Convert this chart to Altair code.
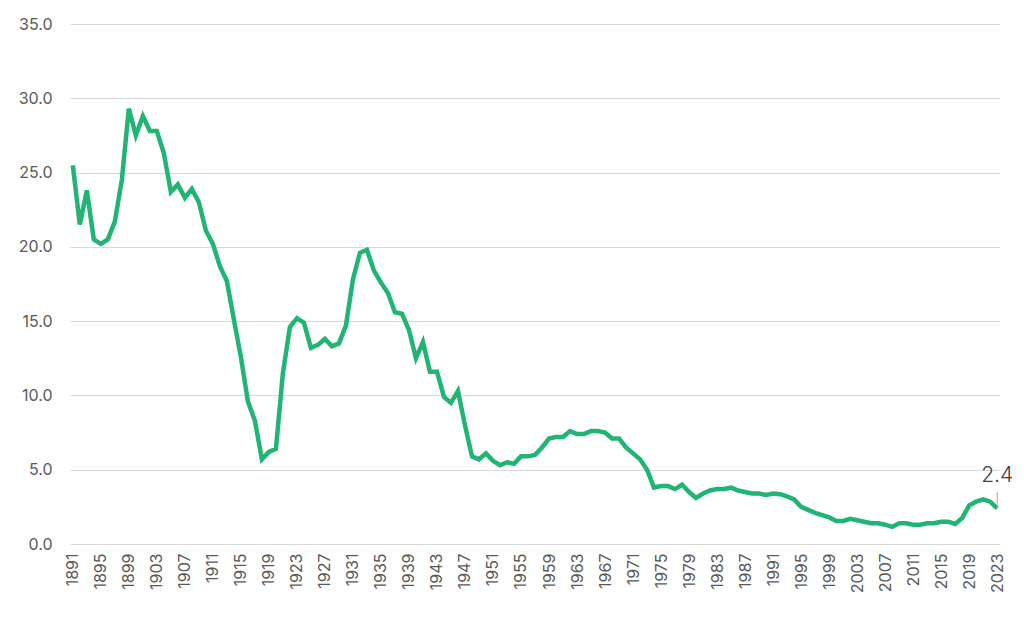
import altair as alt
import pandas as pd

years = list(range(1891, 2024))
values = [
    25.5, 21.5, 23.8, 20.5, 20.2, 20.5, 21.7, 24.5, 29.3, 27.5,  # 1891-1900
    28.8, 27.8, 27.8, 26.3, 23.7, 24.2, 23.3, 23.9, 23.0, 21.1,  # 1901-1910
    20.2, 18.7, 17.7, 15.1, 12.6, 9.6, 8.3, 5.7, 6.2, 6.4,       # 1911-1920
    11.5, 14.6, 15.2, 14.9, 13.2, 13.4, 13.8, 13.3, 13.5, 14.7,  # 1921-1930
    17.8, 19.6, 19.8, 18.4, 17.6, 16.9, 15.6, 15.5, 14.4, 12.5,  # 1931-1940
    13.6, 11.6, 11.6, 9.9, 9.5, 10.3, 8.0, 5.9, 5.7, 6.1,        # 1941-1950
    5.6, 5.3, 5.5, 5.4, 5.9, 5.9, 6.0, 6.5, 7.1, 7.2,            # 1951-1960
    7.2, 7.6, 7.4, 7.4, 7.6, 7.6, 7.5, 7.1, 7.1, 6.5,            # 1961-1970
    6.1, 5.7, 5.0, 3.8, 3.9, 3.9, 3.7, 4.0, 3.5, 3.1,            # 1971-1980
    3.4, 3.6, 3.7, 3.7, 3.8, 3.6, 3.5, 3.4, 3.4, 3.3,            # 1981-1990
    3.4, 3.35, 3.2, 3.0, 2.5, 2.3, 2.1, 1.95, 1.8, 1.55,         # 1991-2000
    1.55, 1.7, 1.6, 1.5, 1.4, 1.4, 1.3, 1.15, 1.4, 1.4,          # 2001-2010
    1.3, 1.3, 1.4, 1.4, 1.5, 1.5, 1.35, 1.75, 2.6, 2.85,         # 2011-2020
    3.0, 2.85, 2.4,                                              # 2021-2023
]
tick_years = list(range(1891, 2024, 4))
y_ticks = [0, 5, 10, 15, 20, 25, 30, 35]

df = pd.DataFrame({"year": years, "value": values})
last = df.tail(1)

x_enc = alt.X(
    "year:Q",
    scale=alt.Scale(domain=[1890.6, 2023.4], nice=False, zero=False),
    axis=alt.Axis(
        values=tick_years, format="d", labelAngle=-90, labelAlign="right",
        labelBaseline="middle", labelPadding=9, labelFontSize=16,
        labelColor="#595959", grid=False, domain=False, ticks=False,
        title=None, labelOverlap=False, labelFlush=False,
    ),
)
y_enc = alt.Y(
    "value:Q",
    scale=alt.Scale(domain=[0, 35], nice=False),
    axis=alt.Axis(
        values=y_ticks, format=".1f", labelFontSize=16, labelColor="#595959",
        labelPadding=18, grid=True, gridColor="#d9d9d9", domain=False,
        ticks=False, title=None,
    ),
)

line = alt.Chart(df).mark_line(color="#21b573", strokeWidth=4.5).encode(x=x_enc, y=y_enc)

# short grey leader from the end label down to the last point
leader = alt.Chart(last).mark_rule(color="#a6a6a6", strokeWidth=1).encode(
    x=x_enc, y=y_enc, y2=alt.Y2Datum(3.5)
)

label = alt.Chart(last).mark_text(
    fontSize=21, fontWeight=300, color="#404040", baseline="bottom",
    align="center", dy=-22,
).encode(x=x_enc, y=y_enc, text=alt.Text("value:Q", format=".1f"))

chart = (
    alt.layer(line, leader, label)
    .properties(
        width=930, height=520, autosize=alt.AutoSizeParams(type="none"),
        padding={"left": 62, "top": 16, "right": 16, "bottom": 65},
    )
    .configure(font="Inter")
    .configure_view(stroke="transparent")
)

chart.save("out.html", embed_options={"renderer": "svg", "actions": False})
